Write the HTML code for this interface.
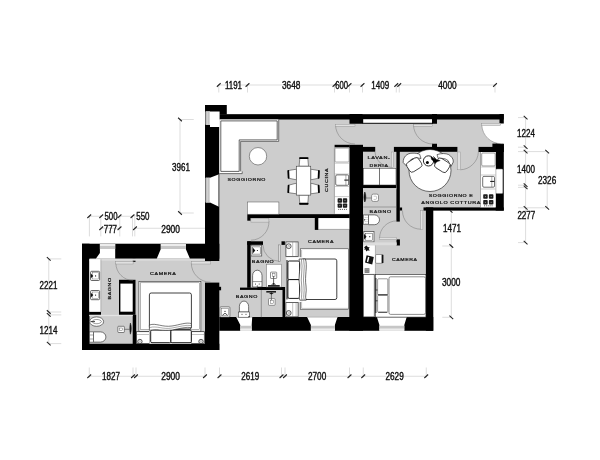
<!DOCTYPE html>
<html><head><meta charset="utf-8">
<style>
html,body{margin:0;padding:0;background:#fff;}
body{width:600px;height:460px;overflow:hidden;font-family:"Liberation Sans",sans-serif;}
svg{display:block;filter:grayscale(1);}
.w{fill:#000;}
.f{fill:#cdcdcd;}
.wh{fill:#fff;stroke:#333;stroke-width:.5;}
.whn{fill:#fff;}
.arc{fill:none;stroke:#777;stroke-width:.5;}
.leaf{fill:#e0e0e0;stroke:#8a8a8a;stroke-width:.4;}
.dl{stroke:#cfcfcf;stroke-width:.7;fill:none;}
.tk{stroke:#222;stroke-width:1.05;fill:none;}
.dt{font-family:"Liberation Sans",sans-serif;font-size:102px;fill:#111;stroke:#111;stroke-width:4;}
.rl{font-family:"Liberation Sans",sans-serif;font-size:43px;fill:#151515;stroke:#151515;stroke-width:2.2;letter-spacing:5px;}
.ln{stroke:#333;stroke-width:.5;fill:none;}
.lg{stroke:#999;stroke-width:.5;fill:none;}
</style></head><body>
<svg width="600" height="460" viewBox="0 0 600 460">
<rect width="600" height="460" fill="#fff"/>
<!-- FLOOR -->
<g id="floor">
<path class="f" d="M205 105H226.75V114.2H503.75V210.5H433.25V330.75H219.3V350H82V243.75H205Z"/>
</g>
<!-- WALLS -->
<g id="walls" class="w">
<rect x="205" y="105" width="21.75" height="9.5"/>
<rect x="205" y="114.2" width="298.75" height="5.3"/>
<rect x="349.5" y="114" width="13" height="9.75"/>
<rect x="432" y="114" width="5" height="9.75"/>
<rect x="499.5" y="114" width="4.25" height="9.6"/>
<rect x="362" y="118" width="71" height="5.75"/>
<rect x="205" y="105" width="14.3" height="156"/>
<rect x="82" y="243.75" width="137.3" height="15"/>
<rect x="82" y="243.75" width="7.5" height="106.25"/>
<rect x="82" y="343.75" width="137.3" height="6.25"/>
<rect x="205" y="282.6" width="14.3" height="67.4"/>
<rect x="219.3" y="317" width="213.95" height="13.75"/>
<rect x="349.3" y="144.8" width="13.7" height="185.9"/>
<rect x="425.9" y="207.4" width="7.35" height="123.35"/>
<rect x="423.5" y="207.4" width="80.25" height="3.2"/>
<rect x="495.7" y="143.6" width="8.05" height="67"/>
<rect x="492.4" y="143.6" width="11.35" height="8.4"/>
<rect x="393.9" y="146.9" width="63.5" height="4.9"/>
<rect x="478.5" y="146.9" width="25" height="5.1"/>
<rect x="432" y="143.75" width="5" height="5"/>
<rect x="362.5" y="146.9" width="12.7" height="4.8"/>
<rect x="334.6" y="144.8" width="15" height="2.8"/>
<rect x="396.4" y="147" width="3.4" height="74.6"/>
<rect x="399.5" y="207.5" width="2.6" height="3"/>
<rect x="362.5" y="185" width="33.5" height="3.25"/>
<rect x="396.5" y="239.4" width="3.4" height="6.1"/>
<rect x="247.3" y="214.2" width="102.2" height="3.8"/><rect x="247.3" y="218" width="3.4" height="2.7"/>
<rect x="314.8" y="218" width="3.7" height="11.9"/>
<rect x="247.2" y="241.3" width="15.8" height="3.6"/>
<rect x="247.2" y="241.3" width="3.5" height="46.5"/>
<rect x="281.5" y="241.3" width="3.4" height="3.6"/>
<rect x="257.4" y="287" width="27.5" height="3"/>
<rect x="240" y="287.6" width="18" height="2.3"/>
<rect x="282.5" y="287" width="2.6" height="30.5"/>
<rect x="219" y="286.8" width="2.1" height="3.5"/>
<rect x="132.7" y="258.75" width="2.8" height="3.1"/>
<rect x="119" y="279.8" width="16.5" height="35"/>
<rect x="89.2" y="311.7" width="11.8" height="3.1"/>
<rect x="132.7" y="314.8" width="3.5" height="29.5"/>
</g>
<!-- WINDOWS -->
<g id="windows">
<rect x="363.2" y="119.2" width="68.8" height="3.6" fill="#fff"/>
<path d="M205.7 111.4H219.6V127H210V124.7H205.7Z" fill="#fff"/>
<rect x="205.7" y="111.4" width="4.3" height="13.3" fill="#d6d6d6"/>
<path d="M206.6 111.4V124.7M208.4 111.4V124.7" stroke="#aaa" stroke-width=".5"/>
<path d="M205.7 177.8H210L218.4 174.4V206.5L210 202.4H205.7Z" fill="#fff"/>
<rect x="205.7" y="177.8" width="4.3" height="24.6" fill="#d6d6d6"/>
<path d="M206.6 177.8V202.4M208.4 177.8V202.4" stroke="#aaa" stroke-width=".5"/>
<path d="M218.9 174.4V206.5" stroke="#999" stroke-width="1"/>
<!-- left room top windows -->
<path d="M99.9 243.9H115.2V258.8H95.8L99.9 253Z" fill="#fff"/>
<rect x="99.9" y="243.9" width="15.3" height="2.1" fill="#ececec"/><rect x="99.9" y="246" width="15.3" height="3" fill="#c6c6c6"/>
<path d="M160.8 243.9H185.8V249L190 258.8H156.7L160.8 249Z" fill="#fff"/><rect x="89.5" y="258.7" width="115.5" height="2" fill="#dcdcdc"/>
<rect x="160.8" y="243.9" width="25" height="2.1" fill="#ececec"/><rect x="160.8" y="246" width="25" height="3" fill="#c6c6c6"/>
<!-- bottom windows -->
<path d="M236.2 317H252.2L251.7 325V330.75H240.3V325Z" fill="#fff"/>
<rect x="240.3" y="325.75" width="11.4" height="3" fill="#c6c6c6"/><rect x="240.3" y="328.75" width="11.4" height="2" fill="#ececec"/>
<path d="M307.1 317H337.5L334.9 325V330.75H310.9V325Z" fill="#fff"/>
<rect x="310.9" y="325.75" width="24" height="3" fill="#c6c6c6"/><rect x="310.9" y="328.75" width="24" height="2" fill="#ececec"/>
<path d="M376.9 317H406.7L404.3 325V330.75H379.4V325Z" fill="#fff"/>
<rect x="379.4" y="325.75" width="24.9" height="3" fill="#c6c6c6"/><rect x="379.4" y="328.75" width="24.9" height="2" fill="#ececec"/>
<path d="M236.2 317.2H252.2M307.1 317.2H337.5M376.9 317.2H406.7" stroke="#888" stroke-width=".5"/>
<rect x="495.9" y="169.1" width="6.9" height="24.4" rx="1" fill="#fff" stroke="#888" stroke-width=".5"/>
</g>
<!-- DOORS -->
<g id="doors">
<path class="arc" d="M335.5 124.5A19.5 19.5 0 0 0 355 144"/>
<rect class="leaf" x="335.2" y="124.2" width="19.8" height="2"/>
<path class="arc" d="M413.5 124.5A19.5 19.5 0 0 0 433 144"/>
<rect class="leaf" x="413.5" y="124.2" width="19" height="2"/>
<path d="M481.8 125.3A19.5 19.5 0 0 0 501.3 143.7H504.5V123.7H500.6V125.3Z" fill="#fff"/><path class="arc" d="M481.8 125.3A19.5 19.5 0 0 0 501.3 143.7H503.5"/>
<rect class="leaf" x="481.8" y="123.2" width="18.8" height="2.2"/>
<path class="arc" d="M460.2 169.8A18.8 18.8 0 0 0 478.4 152"/>
<rect class="leaf" x="457.7" y="152" width="2.8" height="17.8"/>
<path class="arc" d="M375 152A17 17 0 0 0 392 167.5"/>
<rect class="leaf" x="391.3" y="152" width="2.2" height="15.5"/>
<path class="arc" d="M379.6 238A17.1 17.1 0 0 1 396.7 220.9"/>
<rect class="leaf" x="379.6" y="237.2" width="17" height="2.2"/>
<path class="arc" d="M402.5 210.6A18.3 18.3 0 0 0 420.8 229.2"/>
<rect class="leaf" x="420.8" y="210.6" width="2.1" height="18.8"/>
<path class="arc" d="M268.9 221A18.2 18.2 0 0 1 251 240.2"/>
<rect x="250.9" y="218.5" width="18" height="3.6" fill="#d6d6d6" stroke="#8a8a8a" stroke-width=".4"/>
<path class="arc" d="M263 244.9A16.4 16.4 0 0 0 279.4 261.3"/>
<rect x="278.6" y="244.9" width="1.6" height="16.4" fill="#e0e0e0" stroke="#777" stroke-width=".5"/>
<path class="arc" d="M191.3 263A19.2 19.2 0 0 0 210.5 282.2"/>
<rect class="leaf" x="191.3" y="261.6" width="19.5" height="2.4"/>
<path class="arc" d="M115.9 263.4A17.2 17.2 0 0 0 133.1 280.4"/>
<rect class="leaf" x="115.7" y="261.6" width="17.4" height="2.4"/>
</g>
<!-- FURNITURE -->
<g id="furn">
<!-- L sofa -->
<path d="M219.4 119.4H278.7V141.4H240.6V171.4H242.2V173.6H219.4Z" fill="#fff"/><path d="M278.7 119.4V141.4H240.6V171.4M242.2 171.4V173.6H219.4" fill="none" stroke="#222" stroke-width=".6"/>
<path d="M220.8 120.9H277.2V139.9H239.2V171.4H220.8Z" fill="none" stroke="#222" stroke-width=".7"/>
<circle class="wh" cx="258" cy="156.25" r="8.7"/>
<!-- dining table -->
<path d="M299.9 157.6H307.7L308.5 166.2H299.1Z" fill="#fff" stroke="#222" stroke-width=".5" stroke-linejoin="round"/><path d="M300 158.1H307.6" stroke="#000" stroke-width="1.9" stroke-linecap="round"/>
<path d="M299.1 195.1H308.5L307.7 204.3H299.9Z" fill="#fff" stroke="#222" stroke-width=".5" stroke-linejoin="round"/><path d="M300 203.8H307.6" stroke="#000" stroke-width="1.9" stroke-linecap="round"/>
<path d="M288.20 170.6L296.40 169.2V179.8L288.60 178.2Z" fill="#fff" stroke="#222" stroke-width=".5" stroke-linejoin="round"/><path d="M288.30 171L288.60 177.8" stroke="#000" stroke-width="1.8" stroke-linecap="round"/>
<path d="M288.60 185.2L296.40 183.2V193.8L288.20 192.6Z" fill="#fff" stroke="#222" stroke-width=".5" stroke-linejoin="round"/><path d="M288.60 185.6L288.30 192.2" stroke="#000" stroke-width="1.8" stroke-linecap="round"/>
<path d="M319.00 170.6L310.80 169.2V179.8L318.60 178.2Z" fill="#fff" stroke="#222" stroke-width=".5" stroke-linejoin="round"/><path d="M318.90 171L318.60 177.8" stroke="#000" stroke-width="1.8" stroke-linecap="round"/>
<path d="M318.60 185.2L310.80 183.2V193.8L319.00 192.6Z" fill="#fff" stroke="#222" stroke-width=".5" stroke-linejoin="round"/><path d="M318.60 185.6L318.90 192.2" stroke="#000" stroke-width="1.8" stroke-linecap="round"/>
<rect x="296.4" y="166.2" width="14.35" height="28.9" fill="#fff" stroke="#333" stroke-width=".55"/>
<!-- kitchen counter -->
<rect x="334.4" y="147.6" width="14.9" height="66.2" fill="#fff"/>
<path d="M334.4 147.6V213.8" stroke="#777" stroke-width=".6"/>
<rect x="335" y="148.2" width="14" height="13.8" rx="1" fill="#fff" stroke="#666" stroke-width=".5"/>
<path d="M334.8 163.2H349.3M334.8 174H349.3M334.8 186.5H349.3M334.8 196.6H349.3" stroke="#999" stroke-width=".5"/>
<rect x="335.7" y="174.9" width="12.9" height="10.4" rx="1.2" fill="#fff" stroke="#333" stroke-width=".7"/>
<path d="M345.9 175.1V185.1" stroke="#555" stroke-width=".5"/>
<path d="M344.3 180.1H348.5" stroke="#111" stroke-width="1"/>
<g fill="#1e1e1e"><rect x="337.6" y="198.3" width="4.4" height="4.4" rx=".8"/><rect x="342.8" y="198.3" width="4.4" height="4.4" rx=".8"/><rect x="337.6" y="203.4" width="4.4" height="4.4" rx=".8"/><rect x="342.8" y="203.4" width="4.4" height="4.4" rx=".8"/></g>
<g fill="#999"><circle cx="339.8" cy="200.5" r=".6"/><circle cx="345" cy="200.5" r=".6"/><circle cx="339.8" cy="205.6" r=".6"/><circle cx="345" cy="205.6" r=".6"/></g>
<path d="M338.3 209.4H346.8" stroke="#333" stroke-width=".9" stroke-dasharray=".9 1"/>
<!-- cabinet living -->
<rect x="247.5" y="202" width="31.4" height="12.2" fill="#fff" stroke="#555" stroke-width=".5"/>
<!-- wardrobe camera2 -->
<rect x="318.5" y="218.2" width="30.8" height="11" fill="#fff"/><path d="M318.5 229.4H349.3" stroke="#888" stroke-width=".6"/>
<!-- lavanderia machines -->
<rect class="wh" x="363.4" y="168.25" width="16.3" height="16.75"/>
<rect class="wh" x="379.7" y="168.25" width="16.3" height="16.75"/>
<!-- bagno 3 sink -->
<rect x="363" y="188.3" width="33.4" height=".9" fill="#ddd"/>
<path d="M363.3 207H396.4" stroke="#666" stroke-width=".5"/>
<rect x="371.6" y="194.1" width="6.9" height="7.3" rx="1.6" fill="#fff" stroke="#777" stroke-width=".8"/>
<path d="M373.6 196.2H375.6Q376.6 196.2 376.6 197.2V198.4Q376.6 199.4 375.6 199.4H373.6" fill="none" stroke="#888" stroke-width=".5"/>
<path d="M366 198H371.6" stroke="#777" stroke-width=".8"/>
<path d="M364.8 192C366.2 195 366.2 199.5 364.8 202C363.6 199.5 363.6 195 364.8 192Z" fill="#111" stroke="#111" stroke-width=".6"/>
<!-- WC bagno 3 -->
<path d="M368.5 214.9H374.5A5 4.9 0 0 1 374.5 224.7H368.5Z" fill="#fff" stroke="#222" stroke-width=".6"/>
<rect x="363.5" y="214.9" width="5" height="9.8" fill="#fff" stroke="#222" stroke-width=".5"/>
<path d="M365.2 215V224.6M367 215V224.6" stroke="#555" stroke-width=".4" stroke-dasharray="1 1"/>
<circle cx="364.6" cy="219.8" r=".6" fill="#111"/>
<!-- sink bagno3 lower -->
<rect x="363.8" y="231.5" width="10.2" height="10.4" fill="#fff" stroke="#555" stroke-width=".8"/>
<rect x="365.5" y="233.2" width="7" height="7" fill="#fff" stroke="#333" stroke-width=".45"/>
<path d="M364 233.8L366.6 236.7L364 239.6Z" fill="#111"/><circle cx="369.8" cy="236.7" r=".6" fill="#111"/>
<!-- round sofa -->
<circle cx="430" cy="170.5" r="21" fill="#fff" stroke="#111" stroke-width=".6"/>
<path d="M403.2 162.5C403 157 407 153.2 412 153.2C415 153 418 153.5 419.6 154.2L421 158.5C417 157.5 412 158 410 160.5L406.5 166Z" fill="#fff" stroke="#111" stroke-width=".6"/>
<path d="M437 154.6C441 153.2 446 153.2 448.6 154.6C451.6 156.4 453.6 159 453.3 162L451 166.4L448.2 160.8C446 158.4 442 157.8 438.4 158.8Z" fill="#fff" stroke="#111" stroke-width=".6"/>
<rect x="-7" y="-5.5" width="14" height="11" rx="3" transform="translate(414.2 164.9) rotate(-32)" fill="#fff" stroke="#111" stroke-width=".7"/>
<rect x="-7" y="-5.5" width="14" height="11" rx="3" transform="translate(442.3 165.3) rotate(32)" fill="#fff" stroke="#111" stroke-width=".7"/>
<circle cx="428.5" cy="160.9" r="5.1" fill="#fff" stroke="#111" stroke-width=".9"/>
<circle cx="427.4" cy="162.4" r="1.5" fill="#000"/>
<path d="M430.8 156.6L434.6 159.2L433.4 156.4L436.8 159.8L440.2 160.6L436.4 162L434.8 163.8L433.8 161.4L431.6 159.6Z" fill="#000" stroke="#000" stroke-width=".4"/>
<!-- kitchen right -->
<rect x="480.5" y="152" width="15.1" height="55.3" fill="#fff"/>
<path d="M480.5 152V207.3" stroke="#777" stroke-width=".6"/>
<rect x="481.7" y="153" width="13.5" height="13" rx="1" fill="#fff" stroke="#555" stroke-width=".6"/>
<path d="M481 167H495.5M481 175H495.5M481 189H495.5" stroke="#999" stroke-width=".5"/>
<rect x="482.7" y="176.4" width="11.8" height="10.8" rx="1.2" fill="#fff" stroke="#333" stroke-width=".7"/>
<path d="M491.8 176.6V187" stroke="#555" stroke-width=".5"/>
<path d="M490.2 181.4H494.4" stroke="#111" stroke-width="1"/>
<g fill="#1e1e1e"><rect x="483.2" y="194.3" width="4.5" height="4.5" rx=".8"/><rect x="488.9" y="194.3" width="4.5" height="4.5" rx=".8"/><rect x="483.2" y="200" width="4.5" height="4.5" rx=".8"/><rect x="488.9" y="200" width="4.5" height="4.5" rx=".8"/></g>
<g fill="#999"><circle cx="485.45" cy="196.55" r=".6"/><circle cx="491.15" cy="196.55" r=".6"/><circle cx="485.45" cy="202.25" r=".6"/><circle cx="491.15" cy="202.25" r=".6"/></g>
<path d="M484 205.8H493" stroke="#333" stroke-width=".9" stroke-dasharray=".9 1"/>
<!-- desk camera3 -->
<rect x="363.3" y="242.4" width="33.4" height="2.8" fill="#dcdcdc"/>
<rect x="363.4" y="245.4" width="11.9" height="28.4" fill="#fff"/>
<path d="M375.4 245.4V273.8" stroke="#888" stroke-width=".5"/>
<path d="M364 247.2L366.5 245.6L368 247.3L369.6 247L368.7 249L369.8 250.6L367.4 250.4L366.2 251.4L365.6 249.6L363.9 249.4L365 248.3Z" fill="#111"/>
<path d="M366.6 255.2L373.8 257L372.2 264.4L365 262.6Z" fill="#111"/>
<path d="M368 256.8L369.4 257.2L368.2 262.2L366.8 261.8Z" fill="#fff"/>
<rect x="364.6" y="268.2" width="4.8" height="4.7" fill="#777"/>
<path d="M365 269.6H369M365 271.2H369" stroke="#ccc" stroke-width=".4"/>
<rect x="375.6" y="254.5" width="7.4" height="8.8" rx="1" fill="#fff" stroke="#444" stroke-width=".5"/>
<rect x="381.6" y="254.8" width="1.7" height="8.2" fill="#111"/>
<!-- wardrobe camera3 -->
<rect x="363.6" y="274.6" width="10.6" height="42.3" fill="#fff" stroke="#222" stroke-width=".6"/>
<!-- bed camera3 -->
<rect x="375.3" y="274.6" width="50.6" height="42.5" fill="#fff" stroke="#222" stroke-width=".6"/>
<path d="M375.9 278V313" stroke="#111" stroke-width=".9"/>
<rect x="377.6" y="278.8" width="10.2" height="15.8" rx=".8" fill="#fff" stroke="#444" stroke-width=".55"/>
<rect x="377.6" y="295.4" width="10.2" height="17" rx=".8" fill="#fff" stroke="#444" stroke-width=".55"/>
<path d="M375.6 290H377.6M375.6 300.8H377.6" stroke="#111" stroke-width=".7"/>
<path d="M377.6 294.8H387.8M378.2 312.2H387" stroke="#111" stroke-width=".7"/>
<rect x="389" y="276.8" width="36.5" height="37.6" rx="1.6" fill="#fff" stroke="#333" stroke-width=".55"/>
<!-- bed camera2 -->
<rect x="285.9" y="241.9" width="12.2" height="14.6" fill="#fff" stroke="#444" stroke-width=".8"/>
<path d="M292.7 242V256.4M296.1 242V256.4" stroke="#666" stroke-width=".4"/>
<circle cx="288.7" cy="246.2" r="2.4" fill="#fff" stroke="#111" stroke-width=".7"/>
<circle cx="288.7" cy="246.2" r=".9" fill="none" stroke="#333" stroke-width=".3"/>
<rect x="285.9" y="302.6" width="12.2" height="14.2" fill="#fff" stroke="#444" stroke-width=".8"/>
<path d="M292.7 302.7V316.7M296.1 302.7V316.7" stroke="#666" stroke-width=".4"/>
<circle cx="288.7" cy="313" r="2.4" fill="#fff" stroke="#111" stroke-width=".7"/>
<circle cx="288.7" cy="313" r=".9" fill="none" stroke="#333" stroke-width=".3"/>
<rect x="300.3" y="248.8" width="48.3" height="60.9" fill="#fff" stroke="#333" stroke-width=".55"/><path d="M301.6 250V308.4H348.4" fill="none" stroke="#777" stroke-width=".45"/>
<rect x="286.3" y="257.2" width="15.5" height="44.8" fill="#fff"/>
<path d="M287 260V299.4" stroke="#111" stroke-width="1"/>
<rect x="287.9" y="261" width="11.6" height="18.6" rx="1.3" fill="#fff" stroke="#000" stroke-width=".9"/>
<rect x="287.9" y="279.6" width="11.6" height="18.8" rx="1.3" fill="#fff" stroke="#000" stroke-width=".9"/>
<rect x="301.6" y="259" width="35.2" height="40.5" rx="1.8" fill="#fff" stroke="#000" stroke-width=".75"/>
<path d="M299 259C301.4 266 297.8 276 299.6 286C300.4 292 298.4 296.5 299.8 300.2H306.2C304.6 296.5 307 292 306 286C304.4 276 307.8 266 305.4 259Z" fill="#fff" stroke="#111" stroke-width=".6"/>
<path d="M301.4 259.2C303.4 268 300 278 301.8 287C302.4 292 300.8 297 302 300M303.6 259.2C305.6 268 302.2 278 304 287C304.6 292 303 297 304.2 300" fill="none" stroke="#222" stroke-width=".45"/>
<!-- bagno 1 -->
<rect x="251" y="245.2" width="10.7" height="10.8" fill="#fff" stroke="#555" stroke-width=".8"/>
<rect x="252.6" y="246.9" width="7.6" height="7.2" fill="#fff" stroke="#333" stroke-width=".45"/>
<path d="M252.7 247.6L255.3 250.5L252.7 253.4Z" fill="#111"/><circle cx="257.4" cy="250.5" r=".6" fill="#111"/>
<path d="M252.6 287V275.6A4.7 5.4 0 0 1 262 275.6V287Z" fill="#fff" stroke="#222" stroke-width=".6"/>
<path d="M252.6 281.6H262" stroke="#333" stroke-width=".5"/>
<circle cx="255.5" cy="284" r=".5" fill="#111"/><circle cx="259.2" cy="284" r=".5" fill="#111"/><circle cx="257.3" cy="286" r=".6" fill="#111"/>
<rect x="266.4" y="264.2" width="15.2" height="22.8" fill="#fff" stroke="#666" stroke-width=".5"/>
<rect x="270.5" y="272.1" width="6.2" height="6.4" rx=".6" fill="#fff" stroke="#444" stroke-width=".6"/>
<rect x="272.2" y="273.8" width="2.8" height="3" fill="none" stroke="#444" stroke-width=".4"/>
<path d="M273.6 276V285" stroke="#555" stroke-width=".9"/>
<path d="M268 285.9H279.7" stroke="#111" stroke-width="1.6"/>
<path d="M271 284.6L273.6 283L276.2 284.6Z" fill="#111"/>
<!-- bagno 2 -->
<path d="M261.3 290V317.4" stroke="#555" stroke-width=".5"/>
<rect x="268.5" y="298.6" width="6.6" height="6.7" rx=".8" fill="#fff" stroke="#555" stroke-width=".6"/>
<rect x="270.3" y="300.4" width="3" height="3" fill="none" stroke="#444" stroke-width=".4"/>
<path d="M271.4 292V300" stroke="#555" stroke-width=".8"/>
<path d="M266.3 291.8H276" stroke="#111" stroke-width="1.5"/>
<path d="M269 293L271.4 294.5L273.8 293Z" fill="#111"/>
<path d="M239.4 312V306.4A4.6 5.3 0 0 1 248.6 306.4V312Z" fill="#fff" stroke="#222" stroke-width=".6"/>
<rect x="238.7" y="312" width="10.6" height="5.2" fill="#fff" stroke="#222" stroke-width=".5"/>
<circle cx="242" cy="314.3" r=".5" fill="#111"/><circle cx="246" cy="314.3" r=".5" fill="#111"/><circle cx="249" cy="316.6" r=".7" fill="#111"/>
<rect x="220" y="306.9" width="9.9" height="10.2" rx=".8" fill="#fff" stroke="#555" stroke-width=".7"/>
<rect x="221.6" y="308.6" width="6.7" height="6.8" fill="none" stroke="#444" stroke-width=".4"/>
<circle cx="225" cy="311.3" r=".6" fill="#111"/>
<path d="M222.5 315.2L225 313.2L227.5 315.2" fill="none" stroke="#111" stroke-width=".7"/>
<!-- left room -->
<rect x="89.3" y="259.3" width="11.4" height="52.4" fill="#fff"/>
<path d="M100.9 259.3V311.7" stroke="#999" stroke-width=".6"/>
<rect x="89.2" y="314.9" width="43.5" height="1.2" fill="#e4e4e4"/>
<g id="sk1"><rect x="90.6" y="271.3" width="9" height="9.2" rx="1" fill="#fff" stroke="#222" stroke-width=".7"/>
<rect x="92.3" y="272.8" width="6" height="6.2" fill="#fff" stroke="#555" stroke-width=".4"/>
<path d="M90.8 273.5L93.3 275.9L90.8 278.3Z" fill="#111"/><circle cx="95.6" cy="275.9" r=".6" fill="#111"/></g>
<g><rect x="90.6" y="290.5" width="9" height="9.2" rx="1" fill="#fff" stroke="#222" stroke-width=".7"/>
<rect x="92.3" y="292" width="6" height="6.2" fill="#fff" stroke="#555" stroke-width=".4"/>
<path d="M90.8 292.7L93.3 295.1L90.8 297.5Z" fill="#111"/><circle cx="95.6" cy="295.1" r=".6" fill="#111"/></g>
<rect x="120.4" y="283.6" width="12.3" height="28.1" fill="#fff"/>
<!-- bidet -->
<ellipse cx="96.6" cy="321.6" rx="7" ry="4.7" fill="#fff" stroke="#222" stroke-width=".6"/>
<path d="M92 321.6C93.5 318.5 100.5 319 101.5 321.6C100.5 324.2 93.5 324.7 92 321.6Z" fill="#fff" stroke="#222" stroke-width=".45"/>
<path d="M90.5 321.6H95" stroke="#111" stroke-width=".8"/>
<!-- wc -->
<path d="M93.5 331.9H100.5A5.4 5.1 0 0 1 100.5 342.1H93.5Z" fill="#fff" stroke="#222" stroke-width=".6"/>
<rect x="89.6" y="331.9" width="3.9" height="10.2" fill="#fff" stroke="#222" stroke-width=".5"/>
<path d="M89.8 335H93.3M89.8 339H93.3" stroke="#444" stroke-width=".5"/>
<!-- shower -->
<rect x="117.9" y="326.3" width="6.4" height="6.2" rx=".6" fill="#fff" stroke="#333" stroke-width=".6"/>
<rect x="119.6" y="328" width="2.9" height="2.8" fill="none" stroke="#444" stroke-width=".4"/>
<path d="M124.3 329.3H129.5" stroke="#444" stroke-width=".6"/>
<path d="M130.4 323C131.6 326 131.6 331 130.4 334.2C129.6 331 129.6 326 130.4 323Z" fill="#111" stroke="#111" stroke-width=".5"/>
<!-- bed camera1 -->
<rect x="138.9" y="281.3" width="62" height="49.9" fill="#fff" stroke="#2a2a2a" stroke-width=".6"/>
<rect x="140.5" y="282.8" width="58.8" height="46.8" fill="none" stroke="#555" stroke-width=".45"/>
<rect x="136.5" y="331.7" width="12.9" height="11.9" fill="#fff" stroke="#222" stroke-width=".7"/>
<rect x="191.4" y="331.7" width="12.9" height="11.9" fill="#fff" stroke="#222" stroke-width=".7"/>
<path d="M136.5 334.5H149.4M191.4 334.5H204.3" stroke="#666" stroke-width=".4"/>
<circle cx="139.9" cy="341.5" r="2.2" fill="#fff" stroke="#111" stroke-width=".7"/>
<circle cx="201" cy="341.5" r="2.2" fill="#fff" stroke="#111" stroke-width=".7"/>
<circle cx="139.9" cy="341.5" r=".9" fill="none" stroke="#333" stroke-width=".3"/>
<circle cx="201" cy="341.5" r=".9" fill="none" stroke="#333" stroke-width=".3"/>
<rect x="149.4" y="331" width="42" height="12.6" fill="#fff"/>
<rect x="149.4" y="293" width="42" height="36" rx="1.8" fill="#fff" stroke="#000" stroke-width=".75"/>
<rect x="150.7" y="330" width="20.2" height="12.7" rx="1.2" fill="#fff" stroke="#000" stroke-width=".9"/>
<rect x="170.9" y="330" width="20.4" height="12.7" rx="1.2" fill="#fff" stroke="#000" stroke-width=".9"/>
<path d="M149.4 325C156 322.6 162 327.5 172 326C180 324.8 186 322 191.4 323.6V327.6C186 326.6 180 328.6 172 330C162 331.2 156 328.6 149.4 330.4Z" fill="#fff" stroke="#111" stroke-width=".55"/>
<path d="M149.6 327.6C157 325.4 163 329.8 172 328C180 326.6 186 324.6 191.2 325.6" fill="none" stroke="#333" stroke-width=".4"/>
</g>
<!-- LABELS -->
<g id="labels" class="rl" opacity="0.999">
<text transform="translate(227.5 180.9) scale(.1)" textLength="385" lengthAdjust="spacingAndGlyphs">SOGGIORNO</text>
<text transform="translate(328.1 192) rotate(-90) scale(.1)" textLength="242" lengthAdjust="spacingAndGlyphs">CUCINA</text>
<text transform="translate(367.5 159.4) scale(.1)" textLength="230" lengthAdjust="spacingAndGlyphs">LAVAN-</text>
<text transform="translate(369.5 166.9) scale(.1)" textLength="190" lengthAdjust="spacingAndGlyphs">DERIA</text>
<text transform="translate(428.75 196.8) scale(.1)" textLength="447.5" lengthAdjust="spacingAndGlyphs">SOGGIORNO E</text>
<text transform="translate(421.25 204.2) scale(.1)" textLength="597.5" lengthAdjust="spacingAndGlyphs">ANGOLO COTTURA</text>
<text transform="translate(369.5 213.2) scale(.1)" textLength="222.5" lengthAdjust="spacingAndGlyphs">BAGNO</text>
<text transform="translate(392 261) scale(.1)" textLength="256" lengthAdjust="spacingAndGlyphs">CAMERA</text>
<text transform="translate(308 243.4) scale(.1)" textLength="260" lengthAdjust="spacingAndGlyphs">CAMERA</text>
<text transform="translate(251.75 263.1) scale(.1)" textLength="225" lengthAdjust="spacingAndGlyphs">BAGNO</text>
<text transform="translate(235.75 297.6) scale(.1)" textLength="222.5" lengthAdjust="spacingAndGlyphs">BAGNO</text>
<text transform="translate(150 275.1) scale(.1)" textLength="265" lengthAdjust="spacingAndGlyphs">CAMERA</text>
<text transform="translate(110.7 299.5) rotate(-90) scale(.1)" textLength="222.5" lengthAdjust="spacingAndGlyphs">BAGNO</text>
</g>
<!-- DIMENSIONS -->
<g id="dims">
<path class="dl" d="M218.75 85H334.5M349.5 85H362.5M396.5 85H495"/>
<path class="dl" d="M218.75 84V92.5M247.5 84V92.5M334.5 84V92.5M349.5 84V92.5M362.5 84V92.5M396.25 84V92.5M399.25 84V92.5M495 84V92.5"/>
<path class="dl" d="M180 119.5V213M180 119.5H193.75M180 213H193.75"/>
<path class="dl" d="M525.6 117.6V242.6M547.2 151.6V207.8M518 117.6H525.7M518 147.2H525.7M518 151.6H547.3M518 185.2H525.7M518 187.4H525.7M518 207.8H547.3M518 242.6H525.7"/>
<path class="dl" d="M451.3 211V317.3M442.3 246H451.4M442.3 317.3H451.4"/>
<path class="dl" d="M89.25 216.25H101.25M119.5 216.25H132.5M101.25 228.25H119.5M135 228.25H205"/>
<path class="dl" d="M89.4 215V236.4M100.8 215V236.4M119.75 215V236.4M132.5 215V236.4M134.8 215V236.4"/>
<path class="dl" d="M48.75 258.9V343.6M48.75 258.9H61.25M48.75 312H61.25M48.75 314.9H61.25M48.75 343.6H61.25"/>
<path class="dl" d="M89.25 376.25H205M219.5 376.25H426.25"/>
<path class="dl" d="M89.25 367.5V377.5M133 367.5V377.5M136 367.5V377.5M205 367.5V377.5M219.5 367.5V377.5M281.5 367.5V377.5M285 367.5V377.5M349.5 367.5V377.5M363.25 367.5V377.5M426.25 367.5V377.5"/>
<g class="tk">
<path d="M216.85 86.75L220.65 83.25M245.60 86.75L249.40 83.25M332.60 86.75L336.40 83.25M347.60 86.75L351.40 83.25M360.60 86.75L364.40 83.25M394.35 86.75L398.15 83.25M397.35 86.75L401.15 83.25M493.10 86.75L496.90 83.25"/>
<path d="M178.10 117.75L181.90 121.25M178.10 211.25L181.90 214.75"/>
<path d="M523.7 115.85L527.5 119.35M523.7 145.45L527.5 148.95M523.7 149.85L527.5 153.35M545.3 149.85L549.1 153.35M523.7 183.45L527.5 186.95M523.7 185.65L527.5 189.15M523.7 206.05L527.5 209.55M545.3 206.05L549.1 209.55M523.7 240.85L527.5 244.35"/>
<path d="M449.4 244.25L453.2 247.75M449.4 315.65L453.2 319.15M449.9 210.3L452.5 212.7"/>
<path d="M87.35 218.00L91.15 214.50M99.35 218.00L103.15 214.50M117.60 218.00L121.40 214.50M130.60 218.00L134.40 214.50M99.35 230.00L103.15 226.50M117.60 230.00L121.40 226.50M133.10 230.00L136.90 226.50"/>
<path d="M46.85 257.15L50.65 260.65M46.85 310.25L50.65 313.75M46.85 313.15L50.65 316.65M46.85 341.85L50.65 345.35"/>
<path d="M87.35 378.00L91.15 374.50M131.10 378.00L134.90 374.50M134.10 378.00L137.90 374.50M203.10 378.00L206.90 374.50M217.60 378.00L221.40 374.50M279.60 378.00L283.40 374.50M283.10 378.00L286.90 374.50M347.60 378.00L351.40 374.50M361.35 378.00L365.15 374.50M424.35 378.00L428.15 374.50"/>
</g>
<g class="dt" opacity="0.999">
<text transform="translate(225 88.9) scale(.1)" textLength="170" lengthAdjust="spacingAndGlyphs">1191</text>
<text transform="translate(282 88.9) scale(.1)" textLength="185" lengthAdjust="spacingAndGlyphs">3648</text>
<text transform="translate(335.2 88.9) scale(.1)" textLength="128" lengthAdjust="spacingAndGlyphs">600</text>
<text transform="translate(371.25 88.9) scale(.1)" textLength="179" lengthAdjust="spacingAndGlyphs">1409</text>
<text transform="translate(438.25 88.9) scale(.1)" textLength="185" lengthAdjust="spacingAndGlyphs">4000</text>
<text transform="translate(172 170.9) scale(.1)" textLength="179" lengthAdjust="spacingAndGlyphs">3961</text>
<text transform="translate(517 137.1) scale(.1)" textLength="179" lengthAdjust="spacingAndGlyphs">1224</text>
<text transform="translate(517 172.6) scale(.1)" textLength="179" lengthAdjust="spacingAndGlyphs">1400</text>
<text transform="translate(538 183.9) scale(.1)" textLength="182.5" lengthAdjust="spacingAndGlyphs">2326</text>
<text transform="translate(517.4 219) scale(.1)" textLength="179" lengthAdjust="spacingAndGlyphs">2277</text>
<text transform="translate(443 232.1) scale(.1)" textLength="179" lengthAdjust="spacingAndGlyphs">1471</text>
<text transform="translate(442 285.9) scale(.1)" textLength="185" lengthAdjust="spacingAndGlyphs">3000</text>
<text transform="translate(104.5 220.1) scale(.1)" textLength="130" lengthAdjust="spacingAndGlyphs">500</text>
<text transform="translate(136.25 220.1) scale(.1)" textLength="132.5" lengthAdjust="spacingAndGlyphs">550</text>
<text transform="translate(103.75 232.6) scale(.1)" textLength="132.5" lengthAdjust="spacingAndGlyphs">777</text>
<text transform="translate(161.25 232.6) scale(.1)" textLength="187.5" lengthAdjust="spacingAndGlyphs">2900</text>
<text transform="translate(39.6 289.2) scale(.1)" textLength="178" lengthAdjust="spacingAndGlyphs">2221</text>
<text transform="translate(39.5 333.9) scale(.1)" textLength="179" lengthAdjust="spacingAndGlyphs">1214</text>
<text transform="translate(102 380.1) scale(.1)" textLength="179" lengthAdjust="spacingAndGlyphs">1827</text>
<text transform="translate(161.25 380.1) scale(.1)" textLength="187.5" lengthAdjust="spacingAndGlyphs">2900</text>
<text transform="translate(241.25 380.1) scale(.1)" textLength="179" lengthAdjust="spacingAndGlyphs">2619</text>
<text transform="translate(308 380.1) scale(.1)" textLength="182.5" lengthAdjust="spacingAndGlyphs">2700</text>
<text transform="translate(385.5 380.1) scale(.1)" textLength="182.5" lengthAdjust="spacingAndGlyphs">2629</text>
</g>
</g>
</svg>
</body></html>
